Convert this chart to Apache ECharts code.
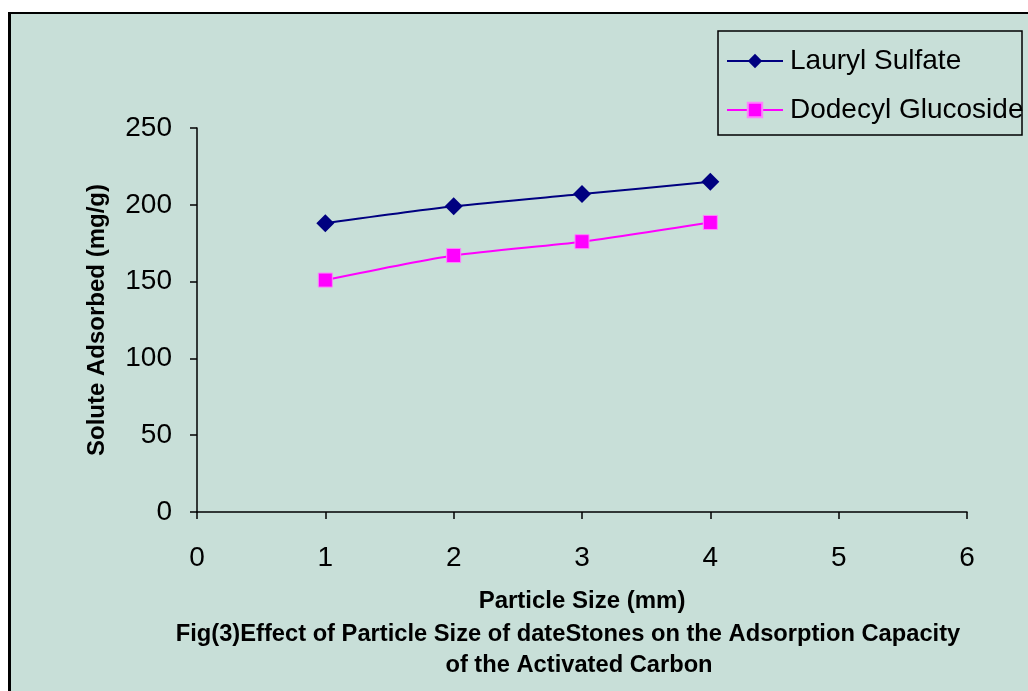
<!DOCTYPE html>
<html>
<head>
<meta charset="utf-8">
<script src="https://cdn.jsdelivr.net/npm/echarts@6/dist/echarts.min.js"></script>
<style>
  html, body { margin: 0; padding: 0; background: #fff; }
  #frame {
    position: absolute; left: 8px; top: 12px; width: 1020px; height: 679px;
    background: #c8dfd8; border-left: 3px solid #000; border-top: 2px solid #000;
  }
  #chart { position: absolute; left: 0; top: 0; width: 1028px; height: 691px; }
</style>
</head>
<body>
<div id="frame"></div>
<div id="chart"></div>
<script>
// particle size (mm)
const sizes = [1, 2, 3, 4]
// solute adsorbed (mg/g)
const laurylSulfate = [188, 199, 207, 215]
const dodecylGlucoside = [151, 167, 176, 188.5]

const font = '"Liberation Sans", Arial, sans-serif'
const captionStyle = { fontSize: 23.7, fontWeight: 'bold', color: '#000', fontFamily: font }

const chart = echarts.init(document.getElementById('chart'))
chart.setOption({
  backgroundColor: 'transparent',
  textStyle: { fontFamily: font },
  animation: false,
  title: [
    {
      text: 'Fig(3)Effect of Particle Size of dateStones on the Adsorption Capacity',
      left: 568,
      top: 622,
      padding: 0,
      textAlign: 'center',
      textStyle: captionStyle,
    },
    {
      text: 'of the Activated Carbon',
      left: 579,
      top: 653,
      padding: 0,
      textAlign: 'center',
      textStyle: captionStyle,
    },
  ],
  legend: {
    left: 726,
    top: 47,
    padding: 0,
    orient: 'vertical',
    itemWidth: 56,
    itemHeight: 18,
    itemGap: 21,
    textStyle: { fontSize: 28, color: '#000', fontFamily: font, padding: [0, 0, 0, 2] },
    data: ['Lauryl Sulfate', 'Dodecyl Glucoside'],
  },
  graphic: [{
    type: 'rect',
    shape: { x: 718, y: 31, width: 304, height: 104 },
    style: { fill: null, stroke: '#000', lineWidth: 1.5 },
    z: 10,
  }],
  grid: { left: 197, right: 61, top: 128, bottom: 179 },
  xAxis: {
    type: 'value',
    min: 0,
    max: 6,
    interval: 1,
    name: 'Particle Size (mm)',
    nameLocation: 'middle',
    nameGap: 77,
    nameTextStyle: { fontSize: 24, fontWeight: 'bold', color: '#000', fontFamily: font },
    axisLine: { lineStyle: { color: '#000', width: 1.5 } },
    axisTick: { length: 7, lineStyle: { color: '#000', width: 1.5 } },
    axisLabel: { fontSize: 28, color: '#000', margin: 32 },
    splitLine: { show: false },
  },
  yAxis: {
    type: 'value',
    min: 0,
    max: 250,
    interval: 50,
    name: 'Solute Adsorbed (mg/g)',
    nameLocation: 'middle',
    nameGap: 88,
    nameTextStyle: { fontSize: 24, fontWeight: 'bold', color: '#000', fontFamily: font },
    axisLine: { show: true, lineStyle: { color: '#000', width: 1.5 } },
    axisTick: { show: true, length: 7, lineStyle: { color: '#000', width: 1.5 } },
    axisLabel: { fontSize: 28, color: '#000', margin: 25 },
    splitLine: { show: false },
  },
  series: [
    {
      name: 'Lauryl Sulfate',
      type: 'line',
      smooth: 0.25,
      data: sizes.map((x, i) => [x, laurylSulfate[i]]),
      symbol: 'diamond',
      symbolSize: 18,
      lineStyle: { color: '#000080', width: 2 },
      itemStyle: { color: '#000080' },
    },
    {
      name: 'Dodecyl Glucoside',
      type: 'line',
      smooth: 0.25,
      data: sizes.map((x, i) => [x, dodecylGlucoside[i]]),
      symbol: 'rect',
      symbolSize: 14,
      lineStyle: { color: '#ff00ff', width: 2 },
      itemStyle: { color: '#ff00ff', borderColor: '#ff80ff', borderWidth: 1 },
    },
  ],
})
</script>
</body>
</html>
